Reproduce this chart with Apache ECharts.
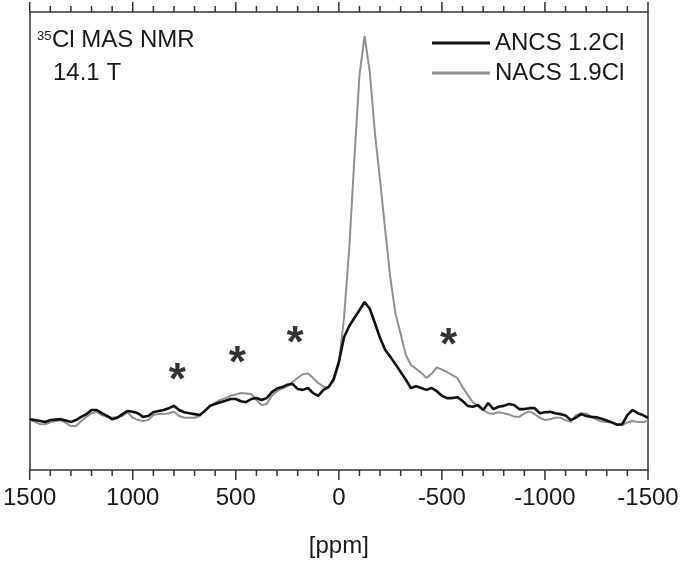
<!DOCTYPE html>
<html><head><meta charset="utf-8">
<script src="https://cdn.jsdelivr.net/npm/echarts@6/dist/echarts.min.js"></script>
<style>html,body{margin:0;padding:0;background:#fff}#c{width:682px;height:576px}</style>
</head><body><div id="c"></div>
<script>
// sampling grid of the spectra (ppm)
const ppmStart = 1500, ppmStep = -25;
// ANCS 1.2Cl intensity (a.u.), 1500 -> -1500 ppm
const ancs = [
11.1,10.9,10.7,10.5,10.9,11.0,11.1,10.8,10.5,10.9,
11.6,12.2,13.1,13.1,12.4,11.8,11.1,11.4,12.2,12.9,
12.7,12.4,11.6,11.8,12.6,12.9,13.1,13.5,14.0,13.1,
12.6,12.4,12.2,12.0,12.9,14.0,14.4,14.8,15.1,15.5,
15.5,15.0,14.8,15.5,15.7,15.3,15.7,17.0,17.8,18.1,
18.6,18.8,17.7,17.5,17.9,16.8,16.2,17.5,18.1,19.9,
23.6,29.0,31.4,33.2,34.9,36.7,35.2,32.1,28.8,26.2,
24.7,23.1,21.4,19.7,17.9,18.3,17.9,17.5,17.9,17.2,
16.2,15.7,15.7,15.9,15.1,14.0,13.8,14.2,13.1,14.6,
13.3,13.8,14.0,14.4,14.2,13.3,13.3,13.5,13.5,12.4,
12.6,12.7,12.4,12.2,11.9,10.9,11.4,12.2,11.8,11.6,
11.5,11.2,10.8,10.4,9.9,10.0,12.0,13.1,12.4,12.0,
11.4];
// NACS 1.9Cl intensity (a.u.)
const nacs = [
10.9,10.5,10.0,10.0,10.4,10.7,10.9,10.3,9.6,9.6,
10.7,11.6,12.4,12.7,12.0,11.6,11.4,11.6,11.8,12.6,
11.4,10.9,10.7,10.9,12.0,12.2,12.2,12.4,12.7,11.8,
11.4,11.4,11.4,11.8,12.9,14.0,14.7,15.3,15.7,16.2,
16.5,16.8,16.7,16.6,15.3,14.2,14.4,16.2,17.2,17.8,
18.3,19.2,20.1,20.9,21.1,20.1,19.0,18.2,18.1,19.4,
23.1,33.2,48.0,67.7,86.2,94.8,86.9,73.6,63.3,52.4,
41.9,34.1,29.7,25.1,22.9,22.1,21.2,20.1,21.0,22.4,
21.9,21.4,20.7,20.1,18.1,16.4,14.8,14.0,13.1,12.4,
12.3,12.6,12.4,12.1,11.7,11.6,12.4,12.8,12.2,11.4,
10.9,11.1,11.4,11.4,10.9,10.5,11.9,12.4,12.3,11.6,
11.0,10.6,10.5,10.3,9.8,9.8,10.4,10.7,10.5,10.5,
10.7];
const seriesNames = ['ANCS 1.2Cl', 'NACS 1.9Cl'];
const asterisks = [[784, 21.8], [493, 25.5], [213, 30.0], [-532, 29.5]];
const xMin = -1500, xMax = 1500, xMajor = 500, xMinor = 100;
const xTicks = [1500, 1000, 500, 0, -500, -1000, -1500];
const yMin = 0, yMax = 100;
// tick positions every 100 ppm (major ones every 500 ppm are longer)
const tickValues = [];
for (let v = xMax; v >= xMin; v -= xMinor) tickValues.push(v);

const toPairs = arr => arr.map((v, i) => [ppmStart + ppmStep * i, v]);
const FONT = '"Liberation Sans", Arial, sans-serif';
const TXT = '#1a1a1a';
const AX = '#333';

const chart = echarts.init(document.getElementById('c'), null, {renderer: 'canvas'});
function xAx(pos, withLabels) {
  const a = {
    type: 'value', min: xMin, max: xMax, interval: xMajor, inverse: true, position: pos,
    splitLine: {show: false},
    axisLine: {show: true, onZero: false, lineStyle: {color: AX, width: 1.5}},
    axisTick: {show: false},
    axisLabel: {show: false}
  };
  if (withLabels) {
    a.name = '[ppm]'; a.nameLocation = 'middle'; a.nameGap = 64;
    a.nameTextStyle = {fontSize: 24, fontFamily: FONT, color: TXT};
    a.axisLabel = {show: true, margin: 16, fontSize: 24, fontFamily: FONT, color: TXT,
      showMinLabel: true, showMaxLabel: true, formatter: v => String(v)};
  }
  return a;
}
const yBase = {
  type: 'value', min: yMin, max: yMax,
  splitLine: {show: false}, axisTick: {show: false}, axisLabel: {show: false},
  axisLine: {show: true, onZero: false, lineStyle: {color: AX, width: 1.5}}
};
chart.setOption({
  animation: false,
  backgroundColor: '#fff',
  grid: {left: 28, right: 34, top: 12, bottom: 106},
  xAxis: [xAx('bottom', true), xAx('top', false)],
  yAxis: [
    Object.assign({}, yBase, {position: 'left'}),
    Object.assign({}, yBase, {position: 'right'})
  ],
  legend: {
    data: seriesNames, orient: 'vertical', left: 432, top: 31, padding: 0,
    itemWidth: 58, itemHeight: 3, itemGap: 6, icon: 'rect',
    textStyle: {fontSize: 24, fontFamily: FONT, color: TXT}
  },
  graphic: [
    {type: 'text', left: 37, top: 30, style: {text: '35', font: '13px ' + FONT, fill: TXT}},
    {type: 'text', left: 52, top: 28, style: {text: 'Cl MAS NMR', font: '24px ' + FONT, fill: TXT}},
    {type: 'text', left: 53, top: 61, style: {text: '14.1 T', font: '24px ' + FONT, fill: TXT}}
  ],
  series: [
    {name: seriesNames[1], type: 'line', data: toPairs(nacs), showSymbol: false, symbol: 'none',
      lineStyle: {color: '#8f8f8f', width: 2}, itemStyle: {color: '#8f8f8f'}, z: 2},
    {name: seriesNames[0], type: 'line', data: toPairs(ancs), showSymbol: false, symbol: 'none',
      lineStyle: {color: '#111', width: 2.6}, itemStyle: {color: '#111'}, z: 3},
    {name: 'spinning sidebands', type: 'scatter', data: asterisks, symbol: 'circle', symbolSize: 2,
      itemStyle: {color: 'rgba(255,255,255,0)'}, silent: true, z: 4,
      label: {show: true, formatter: '*', position: 'inside', offset: [0, 12],
        fontSize: 44, fontWeight: 'bold', fontFamily: FONT, color: '#000'}},
    {name: 'ticks', type: 'custom', silent: true, clip: false, z: 5,
      data: [[0, 50]],
      renderItem: function (params, api) {
        const children = [];
        tickValues.forEach(function (v) {
          const major = xTicks.indexOf(v) >= 0;
          const len = major ? 10 : 6;
          const b = api.coord([v, yMin]);
          const t = api.coord([v, yMax]);
          const st = {stroke: AX, lineWidth: 1.5};
          children.push({type: 'line', shape: {x1: b[0], y1: b[1], x2: b[0], y2: b[1] + len}, style: st});
          children.push({type: 'line', shape: {x1: t[0], y1: t[1], x2: t[0], y2: t[1] - len}, style: st});
        });
        return {type: 'group', children: children};
      }}
  ]
});
</script></body></html>
